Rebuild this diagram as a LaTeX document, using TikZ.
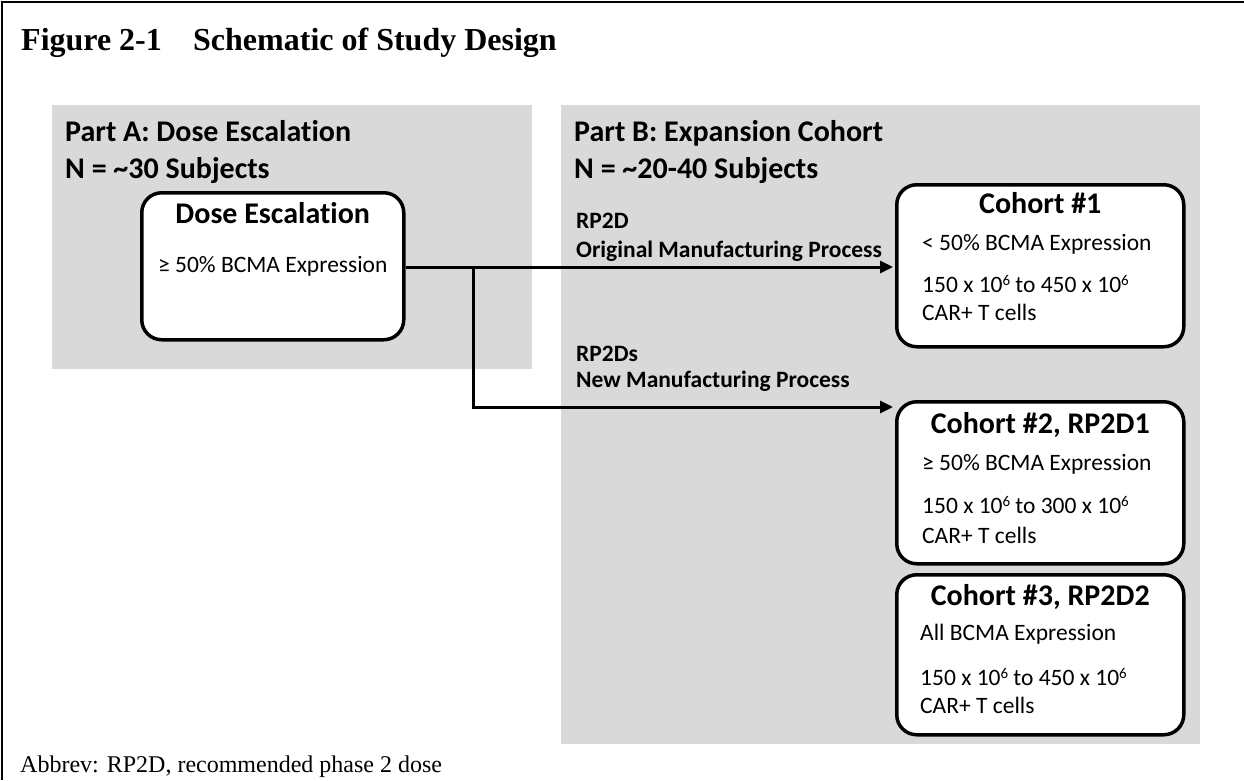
\documentclass[tikz,border=0pt]{standalone}
\usepackage{fontspec}
\setmainfont{Liberation Serif}
\newfontfamily\calibri[Ligatures=NoCommon]{Carlito}
\usetikzlibrary{positioning,arrows.meta}

\newcommand{\sixup}{\raisebox{0.55ex}{\fontsize{15}{15}\selectfont 6}}

\begin{document}
\begin{tikzpicture}[x=1pt,y=-1pt]
\tikzset{>={Triangle[length=13pt,width=12pt]}}

\tikzstyle{part}  = [rectangle, fill=black!15, inner sep=0, anchor=north west]
\tikzstyle{block} = [rectangle, draw, line width=3.5pt, rounded corners=20pt,
                     fill=white, inner sep=0, anchor=north west]
\tikzstyle{head}  = [inner sep=0, anchor=base west, font=\calibri\bfseries\fontsize{30}{36}\selectfont]
\tikzstyle{ttl}   = [inner sep=0, anchor=base, font=\calibri\bfseries\fontsize{30}{36}\selectfont]
\tikzstyle{lbl}   = [inner sep=0, anchor=base west, font=\calibri\bfseries\fontsize{23.5}{28}\selectfont]
\tikzstyle{txt}   = [inner sep=0, anchor=base west, font=\calibri\fontsize{23.5}{28}\selectfont]

\useasboundingbox (0,0) rectangle (1244,780);

% frame and caption
\coordinate (fTL) at (2,2);
\coordinate (fTR) at (1244,2);
\coordinate (fBL) at (2,780);
\draw[line width=2.5pt] (fBL) -- (fTL) -- (fTR);
\node[inner sep=0, anchor=base west, font=\bfseries\fontsize{32}{36}\selectfont] (fig) at (21,50) {Figure 2-1};
\node[inner sep=0, anchor=base west, font=\bfseries\fontsize{32}{36}\selectfont] (title) at (193,50) {Schematic of Study Design};
\node[inner sep=0, anchor=base west, font=\fontsize{24}{28}\selectfont] (abbrev) at (20,772) {Abbrev: RP2D, recommended phase 2 dose};

% background panels
\node[part, minimum width=480pt, minimum height=264pt] (partA) at (52,105) {};
\node[part, minimum width=639pt, minimum height=639pt] (partB) at (561,105) {};

\node[head] (headA)  at (65,141)  {Part A: Dose Escalation};
\node[head] (nA)     at (65,178)  {N = \textasciitilde30 Subjects};
\node[head] (headB)  at (574,141) {Part B: Expansion Cohort};
\node[head] (nB)     at (574,178) {N = \textasciitilde20-40 Subjects};

% boxes
\node[block, minimum width=262pt, minimum height=147pt] (dose) at (140,191) {};
\node[block, minimum width=287pt, minimum height=162pt] (c1)   at (895,183) {};
\node[block, minimum width=287pt, minimum height=162pt] (c2)   at (895,400) {};
\node[block, minimum width=287pt, minimum height=160pt] (c3)   at (895,573) {};

\node[ttl] (doseT) at (dose.north |- 0,223) {Dose Escalation};
\node[txt, anchor=base] (doseA) at (dose.north |- 0,272) {≥ 50\% BCMA Expression};

\node[ttl] (c1T) at (c1.north |- 0,213) {Cohort \#1};
\node[txt] (c1A) at (922,250) {< 50\% BCMA Expression};
\node[txt] (c1B) at (922,292) {150 x 10\sixup{} to 450 x 10\sixup};
\node[txt] (c1C) at (922,320) {CAR+ T cells};

\node[ttl] (c2T) at (c2.north |- 0,433) {Cohort \#2, RP2D1};
\node[txt] (c2A) at (922,470) {≥ 50\% BCMA Expression};
\node[txt] (c2B) at (922,513) {150 x 10\sixup{} to 300 x 10\sixup};
\node[txt] (c2C) at (922,543) {CAR+ T cells};

\node[ttl] (c3T) at (c3.north |- 0,605) {Cohort \#3, RP2D2};
\node[txt] (c3A) at (920,640) {All BCMA Expression};
\node[txt] (c3B) at (920,685) {150 x 10\sixup{} to 450 x 10\sixup};
\node[txt] (c3C) at (920,713) {CAR+ T cells};

% arrow labels
\node[lbl] (rp1)  at (576,228) {RP2D};
\node[lbl] (omp)  at (576,257) {Original Manufacturing Process};
\node[lbl] (rp2)  at (576,361) {RP2Ds};
\node[lbl] (nmp)  at (576,387) {New Manufacturing Process};

% connectors
\coordinate (split) at (473,267);
\draw[line width=3pt, ->] (dose.east |- split) -- ([xshift=-2pt]c1.west |- split);
\draw[line width=3pt, ->] (split) |- ([xshift=-2pt,yshift=-7pt]c2.north west);

\end{tikzpicture}
\end{document}
